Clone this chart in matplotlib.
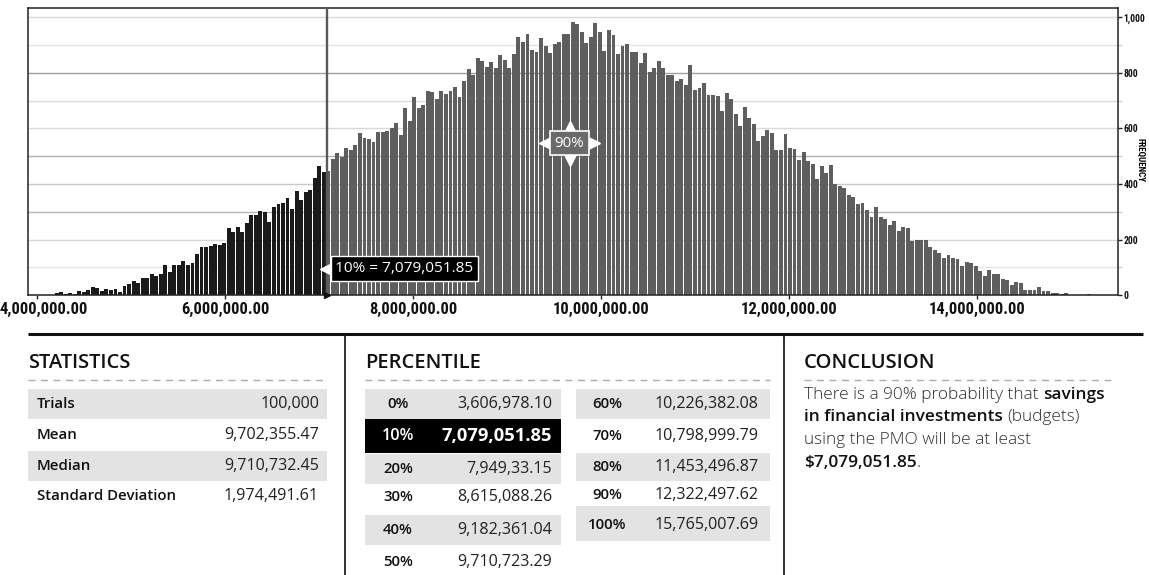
import numpy as np
import matplotlib.pyplot as plt
import matplotlib.transforms as mtransforms
from matplotlib import font_manager
from matplotlib.font_manager import FontProperties
from matplotlib.patches import Rectangle

# pick a narrow face for the axis numbers, if one is installed
ttf = font_manager.fontManager.ttflist
names = {f.name for f in ttf}
COND, STRETCH = 'DejaVu Sans', 'normal'
for want in ['Liberation Sans Narrow', 'Roboto Condensed', 'Open Sans Condensed',
             'Noto Sans Condensed', 'DejaVu Sans Condensed']:
    if want in names:
        COND = want
        break
else:
    narrow = [f for f in ttf if f.stretch in ('condensed', 'semi-condensed', 'extra-condensed')
              or 'Narrow' in f.name or 'Condensed' in f.name]
    if narrow:
        COND, STRETCH = narrow[0].name, narrow[0].stretch
BODY = 'Open Sans' if 'Open Sans' in names else 'DejaVu Sans'

# histogram: bin edges and frequencies
bin_start = 4185100
bin_width = 48160
p10 = 7079051.85
counts = [7, 12, 6, 10, 5, 16, 13, 18, 30, 26, 16, 23, 19, 23, 12, 34, 41, 51, 44, 61,
          62, 77, 69, 77, 108, 83, 109, 109, 122, 109, 115, 147, 172, 172, 176,
          185, 182, 188, 242, 228, 247, 228, 260, 289, 290, 302, 300, 264, 318, 327,
          333, 349, 311, 375, 343, 373, 379, 422, 465, 444,
          447, 490, 510, 499, 531, 523, 540, 583, 565, 562, 550, 588, 587, 590, 601, 619,
          577, 674, 625, 713, 674, 685, 735, 731, 706, 735, 724, 735, 749, 713, 770,
          814, 793, 853, 843, 821, 838, 818, 865, 847, 817, 867, 930, 911, 940, 881,
          874, 924, 897, 871, 905, 910, 938, 940,
          981, 976, 948, 906, 929, 980, 948, 879, 955, 936, 867, 898, 903, 874, 873,
          836, 872, 804, 816, 843, 816, 793, 793, 771, 779, 757, 829, 739, 747, 764,
          721, 719, 715, 664, 726, 707, 652, 607, 676, 639,
          616, 555, 574, 594, 582, 523, 523, 580, 531, 526, 488, 516, 483, 472, 418,
          465, 440, 469, 400, 393, 386, 361, 354, 329, 332, 307, 282, 318, 282, 275,
          253, 267, 231, 245, 242, 195, 200, 198, 198, 174,
          163, 153, 135, 145, 134, 131, 105, 119, 116, 105, 87, 68, 91, 77, 75, 59,
          55, 37, 48, 44, 20, 20, 20, 29, 16, 16, 8, 8, 6, 8, 2, 2, 2, 1, 5]

x_ticks = [4e6, 6e6, 8e6, 10e6, 12e6, 14e6]
y_ticks = [0, 200, 400, 600, 800, 1000]

stat_labels = ["Trials", "Mean", "Median", "Standard Deviation"]
stat_values = ["100,000", "9,702,355.47", "9,710,732.45", "1,974,491.61"]

pct_left = ["0%", "10%", "20%", "30%", "40%", "50%"]
val_left = ["3,606,978.10", "7,079,051.85", "7,949,33.15", "8,615,088.26",
            "9,182,361.04", "9,710,723.29"]
pct_right = ["60%", "70%", "80%", "90%", "100%"]
val_right = ["10,226,382.08", "10,798,999.79", "11,453,496.87", "12,322,497.62",
             "15,765,007.69"]

fig = plt.figure(figsize=(11.49, 5.75), dpi=100)
W, H = 1149, 575
rend = fig.canvas.get_renderer()


def fit_size(s, target_px, max_pt):
    # font size that makes s about target_px wide in the narrow face
    fp = FontProperties(family=COND, weight='bold', stretch=STRETCH, size=10)
    w, _, _ = rend.get_text_width_height_descent(s, fp, ismath=False)
    return min(max_pt, 10 * target_px / w)


xl_size = fit_size('4,000,000.00', 88, 12.5)
yl_size = fit_size('1,000', 22, 9.5)
fq_size = fit_size('FREQUENCY', 55, 6.5)

# ---------------- histogram ----------------
ax = fig.add_axes([28 / W, 1 - 295.3 / H, 1090 / W, 287.3 / H])
lefts = bin_start + bin_width * np.arange(len(counts))
cols = np.where(lefts + bin_width <= p10, '#1a1a1a', '#5e5e5e')
ax.bar(lefts, counts, width=bin_width * 0.86, align='edge', color=cols,
       linewidth=0, zorder=2)

grid_cols = {100: '#e6e6e6', 200: '#d6d6d6', 300: '#b4b4b4', 400: '#c8c8c8',
             500: '#b0b0b0', 600: '#dadada', 700: '#dadada', 800: '#9e9e9e',
             900: '#e3e3e3', 1000: '#d9d9d9'}
for v, c in grid_cols.items():
    ax.axhline(v, color=c, lw=1, zorder=1)

ax.set_xlim(3.9011e6, 15.4968e6)
ax.set_ylim(0, 1033)
for s in ax.spines.values():
    s.set_color('#222222')
    s.set_linewidth(1.1)

ax.axvline(p10, color='#5a5a5a', lw=1.7, zorder=3)
ax.plot([p10], [0], marker='>', ms=4, color='#111111', clip_on=False, zorder=5)

ax.set_xticks(x_ticks)
ax.set_xticklabels(['{:,.2f}'.format(v) for v in x_ticks], family=COND,
                   fontstretch=STRETCH, fontweight='bold', fontsize=xl_size,
                   color='#111111')
ax.tick_params(axis='x', length=3, width=1, color='#222222', pad=2)
# first label sits a little right so it stays inside the picture
lab0 = ax.get_xticklabels()[0]
lab0.set_transform(lab0.get_transform() +
                   mtransforms.ScaledTranslation(6 / 100, 0, fig.dpi_scale_trans))

ax.yaxis.tick_right()
ax.set_yticks(y_ticks)
ax.set_yticks(range(100, 1001, 200), minor=True)
ax.set_yticklabels(['{:,}'.format(v) for v in y_ticks], family=COND,
                   fontstretch=STRETCH, fontweight='bold', fontsize=yl_size,
                   color='#111111')
ax.tick_params(axis='y', which='major', length=3, width=1, color='#222222', pad=1)
ax.tick_params(axis='y', which='minor', length=3, width=1, color='#cccccc')
ax.yaxis.set_label_position('right')
ax.set_ylabel('FREQUENCY', rotation=-90, family=COND, fontstretch=STRETCH,
              fontweight='bold', fontsize=fq_size, va='center')
ax.yaxis.set_label_coords(1.0205, 0.47)

# 10% label
ax.text(7.17e6, 96, '10% = 7,079,051.85', color='white', fontsize=11.1,
        family=BODY, va='center', ha='left', zorder=6,
        bbox=dict(boxstyle='square,pad=0.3', fc='black', ec='white', lw=1))
ax.plot([7.06e6], [96], marker='<', ms=7, color='white', mec='white',
        zorder=6, clip_on=False)

# 90% label
ax.plot([9.40e6], [546], marker='<', ms=8, color='white', zorder=6)
ax.plot([9.925e6], [546], marker='>', ms=8, color='white', zorder=6)
ax.plot([9.662e6], [605], marker='^', ms=8, color='white', zorder=6)
ax.plot([9.662e6], [487], marker='v', ms=8, color='white', zorder=6)
ax.text(9.662e6, 546, '90%', color='white', fontsize=10.8, family=BODY,
        ha='center', va='center', zorder=7,
        bbox=dict(boxstyle='square,pad=0.3', fc='#6a6a6a', ec='white', lw=1.2))

# ---------------- tables below ----------------
ov = fig.add_axes([0, 0, 1, 1])
ov.set_xlim(0, W)
ov.set_ylim(H, 0)
ov.axis('off')

ov.plot([28, 1143], [334, 334], color='#111111', lw=2.2, solid_capstyle='butt')
ov.plot([345, 345], [336, 575], color='#222222', lw=1.3)
ov.plot([784, 784], [336, 575], color='#222222', lw=1.3)

LS, VS = 10.8, 11.6
for x0, x1, title in [(28, 327, 'STATISTICS'), (365, 770, 'PERCENTILE'),
                      (804, 1116, 'CONCLUSION')]:
    ov.text(x0, 363, title, fontsize=14.5, fontweight='semibold', family=BODY,
            color='#111111', va='center', ha='left')
    ov.plot([x0, x1], [380, 380], color='#aaaaaa', lw=1, dashes=(5, 4))

# statistics
stat_y = [404, 435, 466, 496]
for i, (lab, val) in enumerate(zip(stat_labels, stat_values)):
    y = stat_y[i]
    if i % 2 == 0:
        ov.add_patch(Rectangle((28, y - 15), 299, 30, fc='#e3e3e3', ec='none'))
    ov.text(37, y, lab, fontsize=LS, fontweight='semibold', family=BODY,
            color='#111111', va='center', ha='left')
    ov.text(319, y, val, fontsize=VS, family=BODY, color='#222222',
            va='center', ha='right')

# percentile
left_y = [404, 436, 469, 497, 530, 562]
left_band = {0: (389, 419), 1: (419, 453), 2: (454, 484), 4: (515, 545)}
for i, (lab, val) in enumerate(zip(pct_left, val_left)):
    y = left_y[i]
    hi = i == 1
    if i in left_band:
        t, b = left_band[i]
        ov.add_patch(Rectangle((365, t), 196, b - t,
                               fc='black' if hi else '#e3e3e3', ec='none'))
    ov.text(398, y, lab, fontsize=LS + (0.8 if hi else 0), fontweight='semibold',
            family=BODY, color='white' if hi else '#111111',
            va='center', ha='center')
    ov.text(552, y, val, fontsize=13.2 if hi else VS, family=BODY,
            fontweight='bold' if hi else 'normal',
            color='white' if hi else '#222222', va='center', ha='right')

right_y = [404, 436, 467, 495, 525]
right_band = {0: (389, 419), 2: (453, 481), 4: (506, 541)}
for i, (lab, val) in enumerate(zip(pct_right, val_right)):
    y = right_y[i]
    if i in right_band:
        t, b = right_band[i]
        ov.add_patch(Rectangle((576, t), 194, b - t, fc='#e3e3e3', ec='none'))
    ov.text(607, y, lab, fontsize=LS, fontweight='semibold', family=BODY,
            color='#111111', va='center', ha='center')
    ov.text(759, y, val, fontsize=VS, family=BODY, color='#222222',
            va='center', ha='right')

# conclusion with mixed weights
CS = 12.4
lines = [
    [("There is a 90% probability that", 'light', 0), ("savings", 'semibold', 3.3)],
    [("in financial investments", 'semibold', 0), ("(budgets)", 'light', 3.3)],
    [("using the PMO will be at least", 'light', 0)],
    [("$7,079,051.85", 'semibold', 0), (".", 'light', 0)],
]
line_y = [395, 417, 440, 463]
for y, parts in zip(line_y, lines):
    s, w, g = parts[0]
    t = ov.text(804, y, s, fontsize=CS, fontweight=w, family=BODY,
                color='#111111' if w == 'semibold' else '#2e2e2e',
                va='center', ha='left')
    for s, w, g in parts[1:]:
        t = ov.annotate(s, xy=(1, 0), xycoords=t, xytext=(g, 0),
                        textcoords='offset points', va='bottom', ha='left',
                        fontsize=CS, fontweight=w, family=BODY,
                        color='#111111' if w == 'semibold' else '#2e2e2e')

fig.savefig('out.png', dpi=100)
